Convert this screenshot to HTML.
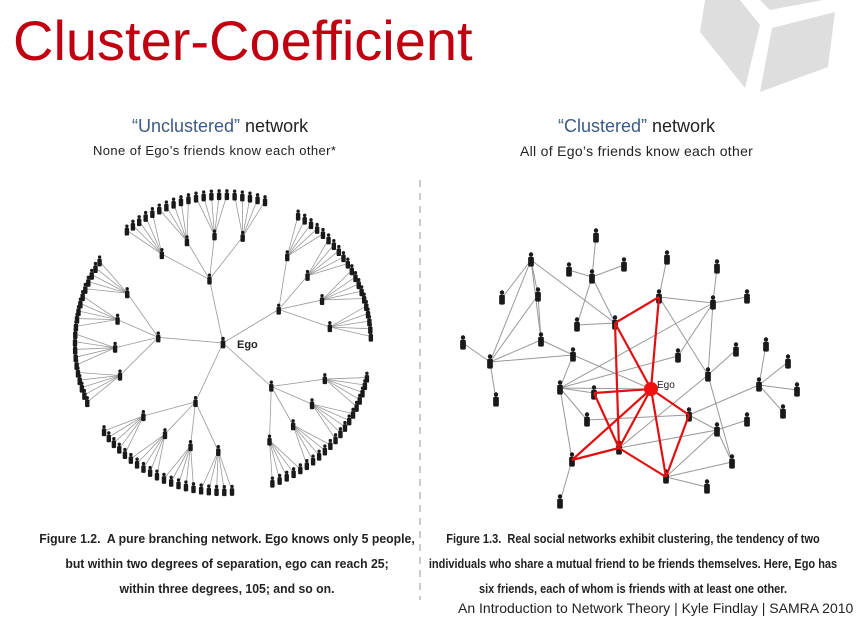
<!DOCTYPE html>
<html><head><meta charset="utf-8"><style>
body{margin:0;background:#fff;}
#w{position:relative;width:867px;height:626px;overflow:hidden;font-family:"Liberation Sans",sans-serif;}
.t{position:absolute;white-space:nowrap;}
.cap{position:absolute;white-space:nowrap;font-family:"Liberation Sans",sans-serif;font-weight:bold;font-size:12.5px;color:#222;transform:scaleX(0.98);transform-origin:center;text-align:center;}
.cap.r{transform:scaleX(0.88);}
</style></head><body><div id="w">
<svg width="867" height="626" style="position:absolute;left:0;top:0">
<g fill="#dedede">
<polygon points="705,0 740,0 760,25 745,88 700,32"/>
<polygon points="772,28 835,12 828,67 760,92"/>
<polygon points="760,0 823,0 770,10"/>
</g>
<line x1="420" y1="180" x2="420" y2="600" stroke="#bbb" stroke-width="1.5" stroke-dasharray="7,6"/>
<g id="L"></g><g id="R"></g>
</svg>
<div class="t" style="left:13px;top:8px;font-size:56px;color:#c00010">Cluster-Coefficient</div>
<div class="t" style="left:132px;top:116px;font-size:18px;color:#222"><span style="color:#3c5a85">“Unclustered”</span> network</div>
<div class="t" style="left:93px;top:143px;font-size:13px;letter-spacing:0.4px;color:#222">None of Ego’s friends know each other*</div>
<div class="t" style="left:558px;top:116px;font-size:18px;color:#222"><span style="color:#3c5a85">“Clustered”</span> network</div>
<div class="t" style="left:520px;top:143px;font-size:14px;letter-spacing:0.3px;color:#222">All of Ego’s friends know each other</div>
<div class="cap" style="left:-2px;width:458px;top:532px">Figure 1.2.&nbsp; A pure branching network. Ego knows only 5 people,</div>
<div class="cap" style="left:-2px;width:458px;top:557px">but within two degrees of separation, ego can reach 25;</div>
<div class="cap" style="left:-2px;width:458px;top:582px">within three degrees, 105; and so on.</div>
<div class="cap r" style="left:392px;width:482px;top:532px">Figure 1.3.&nbsp; Real social networks exhibit clustering, the tendency of two</div>
<div class="cap r" style="left:392px;width:482px;top:557px">individuals who share a mutual friend to be friends themselves. Here, Ego has</div>
<div class="cap r" style="left:392px;width:482px;top:582px">six friends, each of whom is friends with at least one other.</div>
<div class="t" style="left:458px;top:600px;font-size:14px;color:#222">An Introduction to Network Theory | Kyle Findlay | SAMRA 2010</div>
<div class="t" style="left:237px;top:339px;font-size:11px;font-weight:bold;color:#222">Ego</div>
<div class="t" style="left:657px;top:380px;font-size:10px;color:#222">Ego</div>
</div>
<script>
var NS="http://www.w3.org/2000/svg";
function el(p,t,a){var e=document.createElementNS(NS,t);for(var k in a)e.setAttribute(k,a[k]);p.appendChild(e);return e;}
function person(p,x,y,s){s=s||1;el(p,"circle",{cx:x,cy:y-5*s,r:2*s,fill:"#1a1a1a"});el(p,"rect",{x:x-2.6*s,y:y-3*s,width:5.2*s,height:9*s,rx:1.5*s,fill:"#1a1a1a"});}
var L=document.getElementById("L"),cx=223,cy=343;
var hubs=[-102,-31,42,115,185];
var lines=[],nodes=[];
hubs.forEach(function(h){
 var hr=h*Math.PI/180,hx=cx+65*Math.cos(hr),hy=cy+65*Math.sin(hr);
 lines.push([cx,cy,hx,hy]);nodes.push([hx,hy]);
 for(var c=0;c<4;c++){
  var ca=h-22.5+c*15,car=ca*Math.PI/180,chx=cx+108*Math.cos(car),chy=cy+108*Math.sin(car);
  lines.push([hx,hy,chx,chy]);nodes.push([chx,chy]);
  for(var l=0;l<5;l++){
   var la=(ca-6+l*3)*Math.PI/180,lx=cx+148*Math.cos(la),ly=cy+148*Math.sin(la);
   lines.push([chx,chy,lx,ly]);nodes.push([lx,ly]);
  }
 }
});
lines.forEach(function(a){el(L,"line",{x1:a[0],y1:a[1],x2:a[2],y2:a[3],stroke:"#999","stroke-width":0.8});});
nodes.forEach(function(n){person(L,n[0],n[1],0.85);});
person(L,cx,cy,0.9);
var R=document.getElementById("R");
var N={A:[596,236],B:[592,277],C:[569,270],D:[624,265],E:[531,260],F:[667,258],G:[717,267],H:[502,298],I:[538,295],J:[659,297],K:[713,303],L:[747,297],M:[577,325],Nn:[615,323],O:[541,340],P:[463,343],Q:[490,362],Rr:[573,355],S:[678,356],T:[736,350],U:[766,345],V:[788,362],W:[708,375],Ego:[651,389],X:[560,388],Y:[594,393],Z:[759,385],AA:[797,390],BB:[587,420],CC:[689,415],DD:[783,412],EE:[747,420],FF:[496,400],GG:[717,430],HH:[619,448],II:[572,460],JJ:[732,462],KK:[666,477],LL:[707,487],MM:[560,502]};
var gray=[["A","B"],["B","C"],["B","D"],["B","Nn"],["B","M"],["E","H"],["E","I"],["E","O"],["E","Nn"],["E","Q"],["I","Q"],["I","O"],["O","Q"],["Q","P"],["Q","FF"],["Q","Rr"],["O","Rr"],["M","Nn"],["F","J"],["J","K"],["J","W"],["K","G"],["K","L"],["K","X"],["K","S"],["K","W"],["Rr","X"],["X","S"],["X","Y"],["X","BB"],["X","II"],["W","T"],["W","JJ"],["Z","U"],["Z","V"],["Z","AA"],["Z","DD"],["Z","CC"],["BB","CC"],["CC","GG"],["GG","EE"],["GG","JJ"],["GG","KK"],["GG","HH"],["KK","JJ"],["KK","LL"],["II","MM"],["HH","W"],["X","Ego"],["Rr","Ego"]];
var red=[["Ego","J"],["Ego","Nn"],["Ego","Y"],["Ego","CC"],["Ego","HH"],["Ego","II"],["Ego","KK"],["Nn","J"],["Nn","HH"],["Y","HH"],["II","HH"],["HH","KK"],["CC","KK"]];
gray.forEach(function(e){var a=N[e[0]],b=N[e[1]];el(R,"line",{x1:a[0],y1:a[1],x2:b[0],y2:b[1],stroke:"#999","stroke-width":1});});
for(var k in N){if(k!="Ego")person(R,N[k][0],N[k][1],1.1);}
red.forEach(function(e){var a=N[e[0]],b=N[e[1]];el(R,"line",{x1:a[0],y1:a[1],x2:b[0],y2:b[1],stroke:"#e01010","stroke-width":2.2});});
el(R,"circle",{cx:651,cy:389,r:7,fill:"#f01010"});
</script>
</body></html>
